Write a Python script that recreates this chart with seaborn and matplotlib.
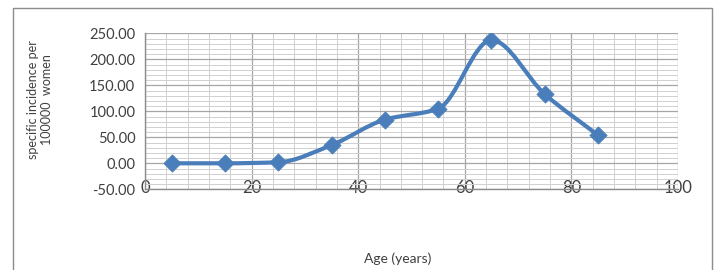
import matplotlib
matplotlib.use("Agg")
import matplotlib.pyplot as plt
from matplotlib.path import Path
from matplotlib.patches import PathPatch, Rectangle
from matplotlib.ticker import MultipleLocator
import numpy as np
import pandas as pd
import seaborn as sns

# data
age = [5, 15, 25, 35, 45, 55, 65, 75, 85]
incidence = [0.0, 0.0, 2.0, 35.0, 84.0, 105.0, 237.0, 133.0, 54.0]

x_ticks = [0, 20, 40, 60, 80, 100]
y_ticks = [-50, 0, 50, 100, 150, 200, 250]

df = pd.DataFrame({"age": age, "incidence": incidence})

sns.set_style("white")
plt.rcParams["font.family"] = ["Lato", "DejaVu Sans"]

LINE_BLUE = "#4a7ebb"
TEXT = "#404040"

fig = plt.figure(figsize=(7.18, 2.70), dpi=100)
ax = fig.add_axes([145 / 718, 1 - 189.3 / 270, 533 / 718, 156 / 270])

# outer chart frame (Excel style)
fig.patches.append(Rectangle((13 / 718, -0.05), 699 / 718, 1.05 - 8 / 270,
                             transform=fig.transFigure, fill=False,
                             edgecolor="#8c8c8c", linewidth=1.0))

ax.set_xlim(0, 100)
ax.set_ylim(-50, 250)
ax.xaxis.set_major_locator(MultipleLocator(20))
ax.xaxis.set_minor_locator(MultipleLocator(4))
ax.yaxis.set_major_locator(MultipleLocator(50))
ax.yaxis.set_minor_locator(MultipleLocator(10))
ax.grid(which="major", color="#a6a6a6", linewidth=0.9)
ax.grid(which="minor", color="#d0d0d0", linewidth=0.7)
ax.set_axisbelow(True)

# smoothed line, bezier segments with monotone (Fritsch-Carlson) tangents
x = np.array(age, dtype=float)
y = np.array(incidence, dtype=float)
n = len(x)
h = np.diff(x)
d = np.diff(y) / h
m = np.zeros(n)
m[0], m[-1] = d[0], d[-1]
for i in range(1, n - 1):
    if d[i - 1] * d[i] <= 0:
        m[i] = 0.0
    else:
        w1 = 2 * h[i] + h[i - 1]
        w2 = h[i] + 2 * h[i - 1]
        m[i] = (w1 + w2) / (w1 / d[i - 1] + w2 / d[i])
verts = [(x[0], y[0])]
codes = [Path.MOVETO]
for i in range(n - 1):
    verts += [(x[i] + h[i] / 3, y[i] + m[i] * h[i] / 3),
              (x[i + 1] - h[i] / 3, y[i + 1] - m[i + 1] * h[i] / 3),
              (x[i + 1], y[i + 1])]
    codes += [Path.CURVE4] * 3
ax.add_patch(PathPatch(Path(verts, codes), fill=False, edgecolor=LINE_BLUE,
                       linewidth=3.0, capstyle="round", joinstyle="round", zorder=3))

sns.scatterplot(data=df, x="age", y="incidence", marker="D", s=75,
                color=LINE_BLUE, edgecolor=LINE_BLUE, ax=ax, zorder=4, legend=False)

ax.set_xticks(x_ticks)
ax.set_yticks(y_ticks)
ax.set_yticklabels([f"{v:.2f}" for v in y_ticks], fontsize=10.5, color=TEXT)
ax.set_xticklabels([str(v) for v in x_ticks], fontsize=12, color=TEXT)
for lab in ax.get_xticklabels():
    lab.set_verticalalignment("center")
ax.tick_params(axis="x", which="both", length=0, pad=-1)
ax.tick_params(axis="y", which="major", length=4, color="#8c8c8c", pad=3)
ax.tick_params(axis="y", which="minor", length=0)

for side in ["top", "right"]:
    ax.spines[side].set_visible(False)
for side in ["left", "bottom"]:
    ax.spines[side].set_color("#8c8c8c")
    ax.spines[side].set_linewidth(1.0)

ax.set_xlabel("")
ax.set_ylabel("")
fig.text(398 / 718, 1 - 259 / 270, "Age (years)", ha="center", va="center",
         fontsize=10, color=TEXT)
fig.text(40 / 718, 1 - 100 / 270, "specific incidence per\n100000  women",
         ha="center", va="center", rotation=90, fontsize=9, color=TEXT,
         linespacing=1.25)

fig.savefig("out.png", dpi=100)
